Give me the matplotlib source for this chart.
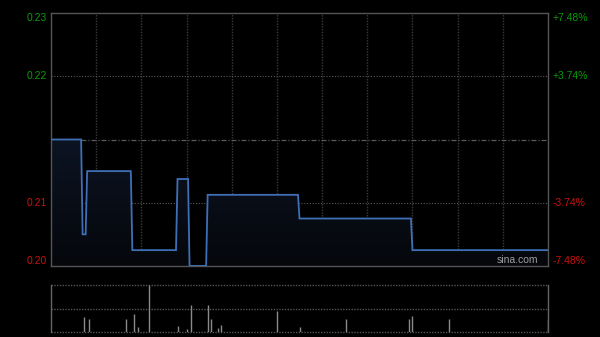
import numpy as np
import matplotlib
matplotlib.use("Agg")
import matplotlib.pyplot as plt
from matplotlib.colors import LinearSegmentedColormap

plt.rcParams['font.family'] = ['Liberation Sans', 'DejaVu Sans']

# ---- data ----
prev_close = 0.214
pct_levels = [7.48, 3.74, -3.74, -7.48]
right_labels = ["+7.48%", "+3.74%", "-3.74%", "-7.48%"]

# minute index (0..330, HK session 9:30-12:00, 13:00-16:00) and price at key change points
times = [0, 20, 21, 23, 24, 53, 54, 83, 84, 91, 92, 103, 104, 164, 165, 239, 240, 330]
prices = [0.214, 0.214, 0.202, 0.202, 0.210, 0.210, 0.200, 0.200, 0.209, 0.209,
          0.198, 0.198, 0.207, 0.207, 0.204, 0.204, 0.200, 0.200]

vol_times = [22, 25, 50, 55, 58, 65, 84, 90, 93, 104, 106, 111, 113, 150, 165,
             196, 238, 240, 264, 330]
vol_values = [147000, 130000, 130000, 180000, 53000, 470000, 63000, 27000, 273000,
              273000, 130000, 37000, 73000, 213000, 53000, 130000, 130000, 157000,
              130000, 130000]

total_minutes = 330
grid_minutes = list(range(30, 330, 30))

# ---- figure ----
fig = plt.figure(figsize=(6.0, 3.37), dpi=100, facecolor='black')
ax = fig.add_axes([51/600, 1-266/337, 497/600, 253/337], facecolor='black')
axv = fig.add_axes([51/600, 1-332/337, 497/600, 47/337], facecolor='black')

ymin = prev_close * (1 - 0.0748)
ymax = prev_close * (1 + 0.0748)
ax.set_xlim(0, total_minutes)
ax.set_ylim(ymin, ymax)

# grid
for gm in grid_minutes:
    ax.axvline(gm, color='#3a3a3a', lw=1, ls=(0, (1, 1)), zorder=1)
for p in [3.74, -3.74]:
    ax.axhline(prev_close * (1 + p / 100), color='#5a5a5a', lw=0.8, ls=(0, (1, 1.5)), zorder=1)
ax.axhline(prev_close, color='#5a5a5a', lw=0.9, ls=(0, (4, 1.5, 1, 1.5)), zorder=1)

# gradient fill below the line
cmap = LinearSegmentedColormap.from_list('g', ['#05070b', '#13203a'])
grad = np.linspace(0, 1, 256).reshape(-1, 1)
im = ax.imshow(grad, extent=[0, total_minutes, ymin, ymax], origin='lower',
               aspect='auto', cmap=cmap, zorder=2)
poly = ax.fill_between(times, prices, ymin, color='none', lw=0)
im.set_clip_path(poly.get_paths()[0], transform=ax.transData)

ax.plot(times, prices, color='#3f6fb5', lw=1.3, zorder=3, solid_joinstyle='miter')

for s in ax.spines.values():
    s.set_color('#555555')
    s.set_linewidth(1)
ax.set_xticks([])
ax.set_yticks([])

# labels
for p, rl in zip(pct_levels, right_labels):
    val = prev_close * (1 + p / 100)
    col = '#0b9a0b' if p > 0 else '#cc1010'
    va = 'center'
    if p == pct_levels[0]:
        va = 'top'
    elif p == pct_levels[-1]:
        va = 'bottom'
    ax.text(-0.008, val, f"{val:.2f}", transform=ax.get_yaxis_transform(),
            ha='right', va=va, color=col, fontsize=7.5)
    ax.text(1.01, val, rl, transform=ax.get_yaxis_transform(),
            ha='left', va=va, color=col, fontsize=7.5)

ax.text(0.98, 0.005, "sina.com", transform=ax.transAxes, ha='right', va='bottom',
        color='#a0a0a0', fontsize=7.5)

# volume panel
vmax = max(vol_values)
axv.set_xlim(0, total_minutes)
axv.set_ylim(0, vmax)
for yv in [0, vmax / 2, vmax]:
    axv.axhline(yv, color='#555555', lw=1, ls=(0, (1, 1)), zorder=1, clip_on=False)
axv.vlines(vol_times, 0, vol_values, color='#8a8a8a', lw=1, zorder=2)
for k in ['top', 'bottom']:
    axv.spines[k].set_visible(False)
for k in ['left', 'right']:
    axv.spines[k].set_color('#666666')
    axv.spines[k].set_linewidth(1)
axv.set_xticks([])
axv.set_yticks([])

fig.savefig('out.png', dpi=100, facecolor='black')
